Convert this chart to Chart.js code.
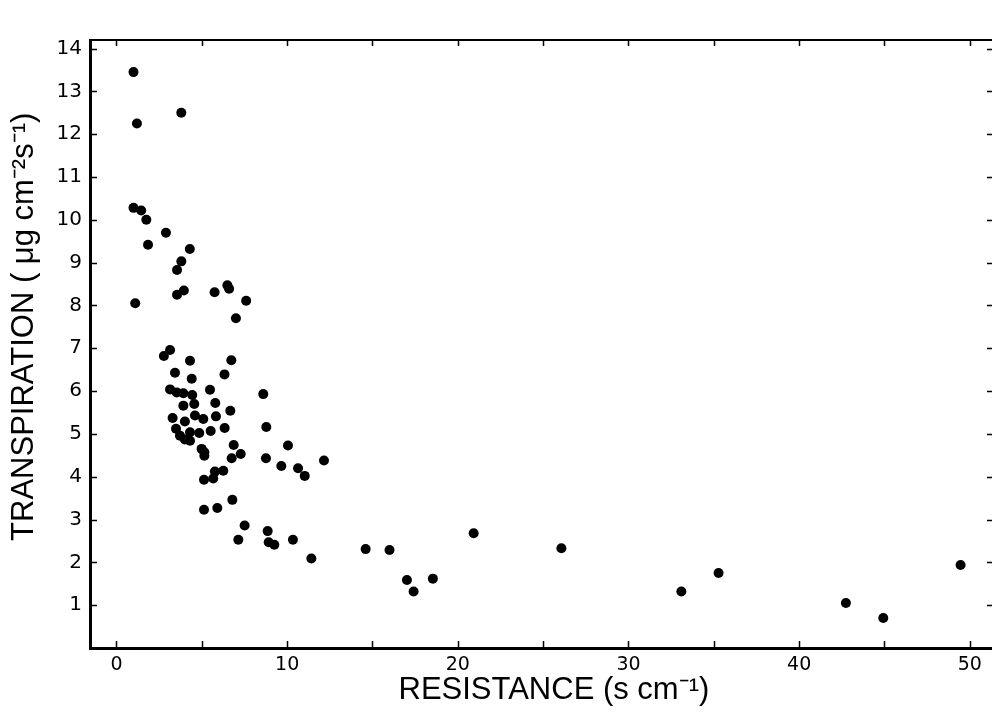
<!DOCTYPE html>
<html>
<head>
<meta charset="utf-8">
<script src="https://cdn.jsdelivr.net/npm/chart.js@4"></script>
<style>
  html, body { margin: 0; padding: 0; background: #fff; overflow: hidden; }
  #wrap { width: 992px; height: 713px; overflow: hidden; }
</style>
</head>
<body>
<div id="wrap"><canvas id="chart" width="997" height="713"></canvas></div>
<script>
// ---- data ----
const resistance = [
  1.0, 3.8, 1.2, 1.0, 1.45, 1.75, 2.9, 1.85, 4.3, 3.8,
  3.55, 6.5, 6.6, 3.95, 3.55, 5.75, 7.6, 1.1, 7.0, 3.14,
  2.78, 4.31, 6.73, 3.43, 4.41, 6.33, 3.14, 3.53, 3.92, 4.44,
  5.48, 8.6, 3.92, 4.56, 5.79, 6.67, 3.29, 4.01, 4.6, 5.09,
  5.83, 3.49, 6.34, 5.52, 4.85, 4.31, 3.72, 4.01, 4.31, 8.78,
  4.99, 5.15, 5.15, 6.87, 7.28, 6.75, 8.76, 10.05, 9.66, 10.64,
  11.03, 12.16, 6.26, 5.77, 5.67, 5.13, 6.79, 5.13, 5.91, 7.51,
  8.86, 7.14, 8.92, 9.25, 10.34, 11.42, 14.6, 16.0, 20.93, 17.02,
  17.41, 18.54, 26.07, 33.1, 35.28, 42.74, 44.93, 49.46
];
const transpiration = [
  13.45, 12.5, 12.25, 10.28, 10.22, 10.0, 9.7, 9.42, 9.32, 9.03,
  8.83, 8.47, 8.39, 8.35, 8.25, 8.31, 8.11, 8.05, 7.7, 6.96,
  6.82, 6.71, 6.72, 6.43, 6.29, 6.39, 6.04, 5.97, 5.95, 5.91,
  6.03, 5.93, 5.66, 5.7, 5.72, 5.54, 5.37, 5.29, 5.43, 5.35,
  5.41, 5.12, 5.14, 5.07, 5.02, 5.04, 4.96, 4.87, 4.84, 5.16,
  4.65, 4.57, 4.49, 4.74, 4.53, 4.43, 4.43, 4.73, 4.25, 4.2,
  4.02, 4.38, 4.14, 4.12, 3.96, 3.93, 3.46, 3.23, 3.27, 2.86,
  2.73, 2.53, 2.47, 2.41, 2.53, 2.09, 2.31, 2.29, 2.68, 1.59,
  1.32, 1.62, 2.33, 1.32, 1.75, 1.05, 0.70, 1.94
];
const xTicks = [0, 5, 10, 15, 20, 25, 30, 35, 40, 45, 50];
const yTicks = [1, 2, 3, 4, 5, 6, 7, 8, 9, 10, 11, 12, 13, 14];

const points = resistance.map((x, i) => ({ x, y: transpiration[i] }));

const TICK_FONT  = '"DejaVu Sans", "Liberation Sans", Arial, sans-serif';
const TITLE_FONT = '"Liberation Sans", Arial, Helvetica, sans-serif';

// inward tick marks on all four sides + top frame line
const frameTicks = {
  id: 'frameTicks',
  afterDraw(chart) {
    const { ctx, chartArea: a, scales: { x, y } } = chart;
    ctx.save();
    ctx.strokeStyle = '#000';
    ctx.lineWidth = 2;
    ctx.beginPath();
    ctx.moveTo(a.left, a.top);
    ctx.lineTo(a.right, a.top);
    ctx.stroke();
    ctx.lineWidth = 1.5;
    xTicks.forEach(v => {
      const px = Math.round(x.getPixelForValue(v)) + 0.5;
      ctx.beginPath();
      ctx.moveTo(px, a.bottom);
      ctx.lineTo(px, a.bottom - 7);
      ctx.moveTo(px, a.top);
      ctx.lineTo(px, a.top + 6);
      ctx.stroke();
    });
    yTicks.forEach(v => {
      const py = Math.round(y.getPixelForValue(v)) + 0.5;
      ctx.beginPath();
      ctx.moveTo(a.left, py);
      ctx.lineTo(a.left + 7, py);
      ctx.moveTo(a.right, py);
      ctx.lineTo(a.right - 5, py);
      ctx.stroke();
    });
    ctx.restore();
  }
};

new Chart(document.getElementById('chart'), {
  type: 'scatter',
  data: {
    datasets: [{
      data: points,
      backgroundColor: '#000',
      borderColor: '#000',
      pointRadius: 5,
      pointHoverRadius: 5,
      borderWidth: 0
    }]
  },
  options: {
    responsive: false,
    animation: false,
    layout: { padding: { top: 40, right: 0, left: 0, bottom: 0 } },
    plugins: { legend: { display: false }, tooltip: { enabled: false } },
    scales: {
      x: {
        type: 'linear',
        min: -1.55,
        max: 51.3,
        afterBuildTicks: s => { s.ticks = xTicks.map(v => ({ value: v })); },
        afterFit: s => { s.height = 65; },
        grid: { display: false, drawTicks: false },
        border: { display: true, color: '#000', width: 3 },
        ticks: {
          color: '#000',
          padding: 6,
          maxRotation: 0,
          autoSkip: false,
          font: { family: TICK_FONT, size: 19 },
          callback: v => (v % 10 === 0 ? String(v) : '')
        },
        title: {
          display: true,
          text: '   RESISTANCE (s cm\u207B\u00B9)',
          color: '#000',
          font: { family: TITLE_FONT, size: 31 },
          padding: { top: 0, bottom: 4 }
        }
      },
      y: {
        type: 'linear',
        min: 0,
        max: 14.2,
        afterBuildTicks: s => { s.ticks = yTicks.map(v => ({ value: v })); },
        afterFit: s => { s.width = 90; },
        grid: { display: false, drawTicks: false },
        border: { display: true, color: '#000', width: 3 },
        ticks: {
          color: '#000',
          padding: 8,
          autoSkip: false,
          font: { family: TICK_FONT, size: 20 }
        },
        title: {
          display: true,
          text: '    TRANSPIRATION ( \u03BCg cm\u207B\u00B2s\u207B\u00B9)',
          color: '#000',
          font: { family: TITLE_FONT, size: 31 },
          padding: { top: 6, bottom: 0 }
        }
      }
    }
  },
  plugins: [frameTicks]
});
</script>
</body>
</html>
